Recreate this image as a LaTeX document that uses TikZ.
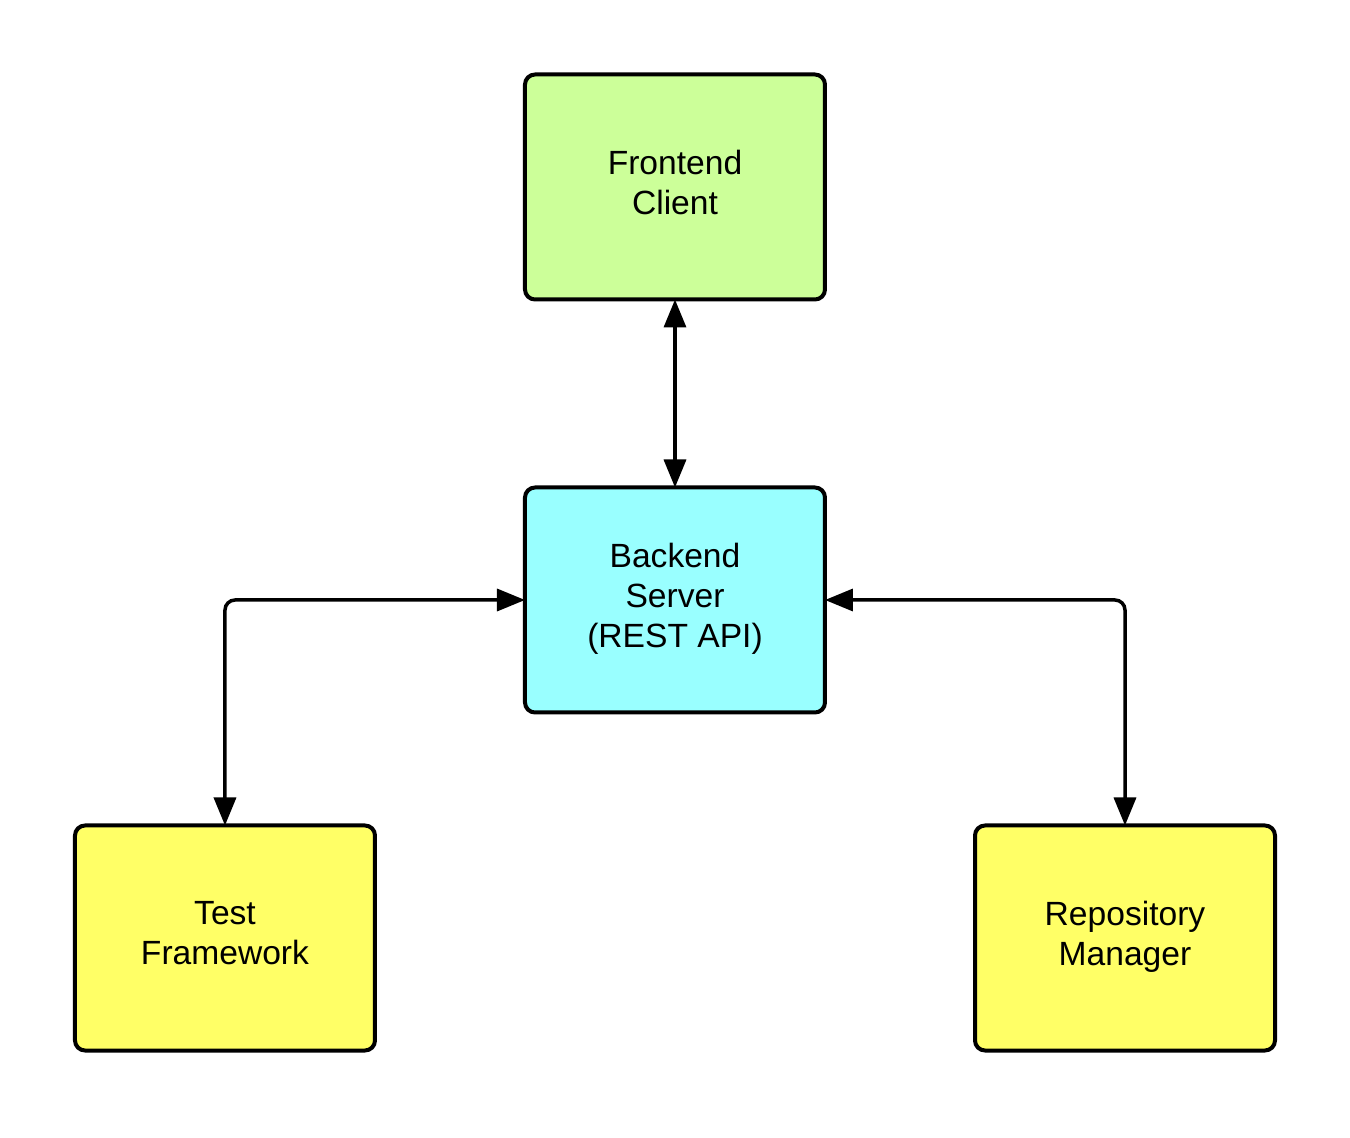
\documentclass[tikz,border=0pt]{standalone}
\usepackage{fontspec}
\setmainfont{Liberation Sans}
\usetikzlibrary{positioning,arrows.meta}
\definecolor{clientgreen}{HTML}{CCFF99}
\definecolor{servercyan}{HTML}{99FFFF}
\definecolor{toolyellow}{HTML}{FFFF66}

\begin{document}
\begin{tikzpicture}[
	box/.style={draw,line width=2pt,rounded corners=5pt,minimum width=150pt,minimum height=112.5pt,
		align=center,font=\fontsize{16.8pt}{20pt}\selectfont,text depth=5pt,inner sep=0pt,outer sep=0pt},
	link/.style={line width=1.75pt,rounded corners=5pt,{Triangle[length=14pt,width=11pt]}-{Triangle[length=14pt,width=11pt]}}]
\useasboundingbox (-337.5pt,93.5pt) rectangle (337.5pt,-475.5pt);
\node[box,fill=clientgreen] (front) at (0,0) {Frontend\\Client};
\node[box,fill=servercyan,below=94pt of front] (back) {Backend\\Server\\(REST API)};
\node[box,fill=toolyellow,below left=56.5pt and 75pt of back] (test) {Test\\Framework};
\node[box,fill=toolyellow,below right=56.5pt and 75pt of back] (repo) {Repository\\Manager};
\draw[link] (front) -- (back);
\draw[link] (test.north) |- (back.west);
\draw[link] (repo.north) |- (back.east);
\end{tikzpicture}
\end{document}
